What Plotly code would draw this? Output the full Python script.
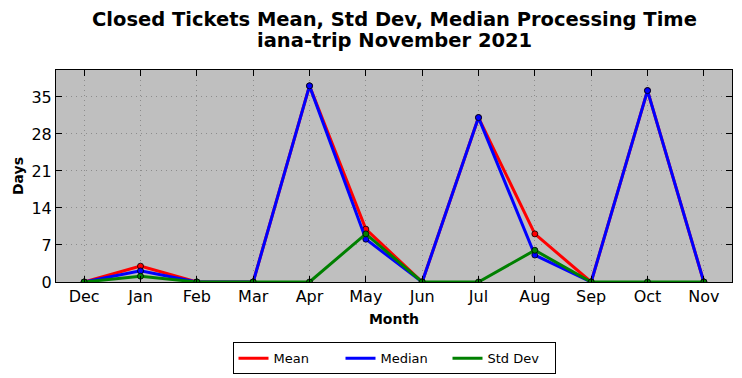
import plotly.graph_objects as go

months = ["Dec", "Jan", "Feb", "Mar", "Apr", "May", "Jun", "Jul", "Aug", "Sep", "Oct", "Nov"]
mean_days = [0, 3.0, 0, 0, 37.1, 10.0, 0, 31.1, 9.1, 0, 36.2, 0]
median_days = [0, 2.1, 0, 0, 37.1, 8.1, 0, 31.1, 5.1, 0, 36.2, 0]
std_days = [0, 1.1, 0, 0, 0, 9.1, 0, 0, 6.0, 0, 0, 0]
y_ticks = [0, 7, 14, 21, 28, 35]

series = [("Mean", mean_days, "red"), ("Median", median_days, "blue"), ("Std Dev", std_days, "green")]

fig = go.Figure()
for name, vals, col in series:
    fig.add_trace(go.Scatter(
        x=list(range(len(months))), y=vals, name=name, mode="lines+markers",
        line=dict(color=col, width=3), showlegend=False,
        marker=dict(color=col, size=6, line=dict(color="black", width=0.8)),
    ))
for name, vals, col in series:
    fig.add_trace(go.Scatter(
        x=[None], y=[None], name=name, mode="lines",
        line=dict(color=col, width=3), showlegend=True,
    ))

# page body has an 8px margin; shrink the figure so the plot lands where the reference has it
OFF = 8
fig.update_layout(
    width=742 - OFF, height=378 - OFF,
    margin=dict(l=56 - OFF, r=10, t=70 - OFF, b=96, autoexpand=False),
    paper_bgcolor="white", plot_bgcolor="#bfbfbf",
    font=dict(family="DejaVu Sans", color="black"),
    showlegend=True,
    legend=dict(orientation="h", x=0.5, xanchor="center", y=-0.285, yanchor="top",
                bordercolor="black", borderwidth=1, bgcolor="white",
                font=dict(size=13), entrywidth=62, itemwidth=30),
    annotations=[
        dict(text="<b>Closed Tickets Mean, Std Dev, Median Processing Time</b>", xref="paper", yref="paper",
             x=0.5, y=1.0 + (70 - 19) / 212, xanchor="center", yanchor="middle", showarrow=False,
             font=dict(size=19.5)),
        dict(text="<b>iana-trip November 2021</b>", xref="paper", yref="paper",
             x=0.5, y=1.0 + (70 - 41) / 212, xanchor="center", yanchor="middle", showarrow=False,
             font=dict(size=19.5)),
    ],
)
fig.update_xaxes(
    range=[-0.5, 11.5], tickmode="array", tickvals=list(range(len(months))), ticktext=months,
    showline=True, linecolor="black", linewidth=1, mirror="allticks",
    ticks="inside", ticklen=6, tickcolor="black", tickfont=dict(size=16),
    showgrid=True, gridcolor="#8c8c8c", griddash="1px,4px", gridwidth=1, zeroline=False,
    title=dict(text="<b>Month</b>", font=dict(size=14), standoff=8),
)
fig.update_yaxes(
    range=[0, 40.1], tickmode="array", tickvals=y_ticks,
    showline=True, linecolor="black", linewidth=1, mirror="allticks",
    ticks="inside", ticklen=6, tickcolor="black", tickfont=dict(size=16),
    showgrid=True, gridcolor="#8c8c8c", griddash="1px,4px", gridwidth=1, zeroline=False,
    title=dict(text="<b>Days</b>", font=dict(size=14), standoff=4),
)
fig.write_html("out.html")
